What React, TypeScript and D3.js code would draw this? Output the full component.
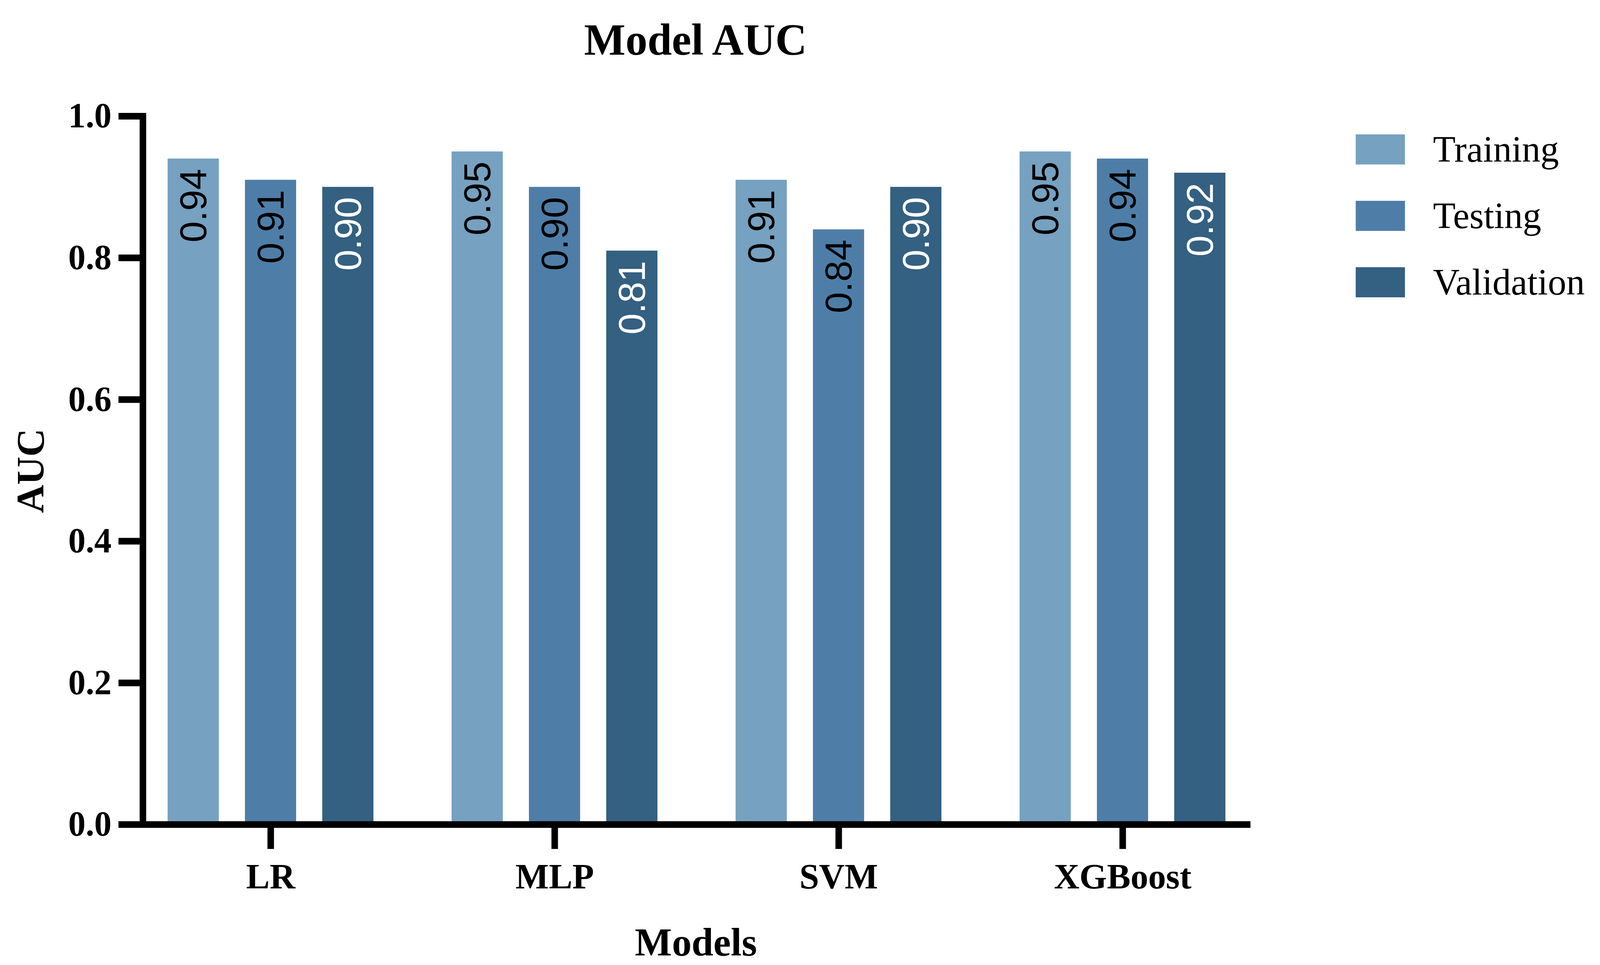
import React, { useRef, useEffect } from "react";
import * as d3 from "d3";

const models = ["LR", "MLP", "SVM", "XGBoost"];
const seriesNames = ["Training", "Testing", "Validation"];
const training = [0.94, 0.95, 0.91, 0.95];
const testing = [0.91, 0.90, 0.84, 0.94];
const validation = [0.90, 0.81, 0.90, 0.92];
const yTicks = [0, 0.2, 0.4, 0.6, 0.8, 1.0];

const colors = ["#76a1c0", "#4e7ea8", "#346081"];
const labelColors = ["#000", "#000", "#fff"];

const serif = "'Liberation Serif', 'Times New Roman', serif";
const sans = "'Liberation Sans', Arial, sans-serif";

const App: React.FC = () => {
    const svgRef = useRef<SVGSVGElement | null>(null);

    useEffect(() => {
        if (!svgRef.current) return;
        // fill the viewport exactly, no scrollbars
        document.body.style.margin = "0";
        document.body.style.overflow = "hidden";
        document.documentElement.style.overflow = "hidden";

        const width = 4159;
        const height = 2470;
        const left = 371;
        const right = 3250;
        const top = 297;
        const bottom = 2110;
        const axisWidth = 17;

        const values = [training, testing, validation];

        const x = d3.scalePoint<string>()
            .domain(models)
            .range([left, right])
            .padding(0.45);

        const groupWidth = 535;
        const x1 = d3.scaleBand<string>()
            .domain(seriesNames)
            .range([0, groupWidth])
            .paddingInner(0.338);

        const y = d3.scaleLinear()
            .domain([0, 1])
            .range([bottom, top]);

        const svg = d3.select(svgRef.current)
            .attr("viewBox", `0 0 ${width} ${height}`)
            .attr("preserveAspectRatio", "none")
            .style("display", "block")
            .style("width", "100vw")
            .style("height", "100vh")
            .style("background", "#fff");

        svg.selectAll("*").remove();

        // bars
        const rows = models.flatMap((m, i) =>
            seriesNames.map((s, j) => ({ model: m, series: s, j, value: values[j][i] })));

        svg.append("g")
            .selectAll("rect")
            .data(rows)
            .join("rect")
            .attr("x", d => x(d.model)! - groupWidth / 2 + x1(d.series)!)
            .attr("y", d => y(d.value))
            .attr("width", x1.bandwidth())
            .attr("height", d => y(0) - y(d.value))
            .attr("fill", d => colors[d.j]);

        // value labels, rotated inside the bars
        svg.append("g")
            .selectAll("text")
            .data(rows)
            .join("text")
            .attr("transform", d => {
                const cx = x(d.model)! - groupWidth / 2 + x1(d.series)! + x1.bandwidth() / 2;
                return `translate(${cx},${y(d.value) + 26}) rotate(-90)`;
            })
            .attr("text-anchor", "end")
            .attr("dominant-baseline", "central")
            .attr("font-family", sans)
            .attr("font-size", 97)
            .attr("fill", d => labelColors[d.j])
            .text(d => d.value.toFixed(2));

        // y axis
        svg.append("g")
            .attr("transform", `translate(${left},0)`)
            .call(d3.axisLeft(y).tickValues(yTicks).tickFormat(d3.format(".1f")).tickSize(63).tickSizeOuter(0).tickPadding(18))
            .call(g => g.select(".domain").attr("stroke-width", axisWidth).attr("stroke-linecap", "square"))
            .call(g => g.selectAll(".tick line").attr("stroke-width", axisWidth))
            .call(g => g.selectAll("text")
                .attr("font-family", serif)
                .attr("font-weight", "bold")
                .attr("font-size", 90)
                .attr("fill", "#000"));

        // x axis
        svg.append("g")
            .attr("transform", `translate(0,${bottom})`)
            .call(d3.axisBottom(x).tickSize(63).tickSizeOuter(0).tickPadding(36))
            .call(g => g.select(".domain").attr("stroke-width", axisWidth))
            .call(g => g.selectAll(".tick line").attr("stroke-width", axisWidth))
            .call(g => g.selectAll("text")
                .attr("font-family", serif)
                .attr("font-weight", "bold")
                .attr("font-size", 92)
                .attr("fill", "#000"));

        // titles
        svg.append("text")
            .attr("x", 1808)
            .attr("y", 140)
            .attr("text-anchor", "middle")
            .attr("font-family", serif)
            .attr("font-weight", "bold")
            .attr("font-size", 114)
            .text("Model AUC");

        svg.append("text")
            .attr("transform", "translate(113,1205) rotate(-90)")
            .attr("text-anchor", "middle")
            .attr("font-family", serif)
            .attr("font-weight", "bold")
            .attr("font-size", 100)
            .text("AUC");

        svg.append("text")
            .attr("x", 1809)
            .attr("y", 2446)
            .attr("text-anchor", "middle")
            .attr("font-family", serif)
            .attr("font-weight", "bold")
            .attr("font-size", 102)
            .text("Models");

        // legend
        const legend = svg.append("g")
            .selectAll("g")
            .data(seriesNames)
            .join("g")
            .attr("transform", (_, i) => `translate(3524,${344 + i * 170})`);

        legend.append("rect")
            .attr("width", 128)
            .attr("height", 77)
            .attr("fill", (_, i) => colors[i]);

        legend.append("text")
            .attr("x", 201)
            .attr("y", 70)
            .attr("font-family", serif)
            .attr("font-size", 96)
            .attr("fill", "#000")
            .text(d => d);
    }, []);

    return <svg ref={svgRef} />;
};

export default App;
